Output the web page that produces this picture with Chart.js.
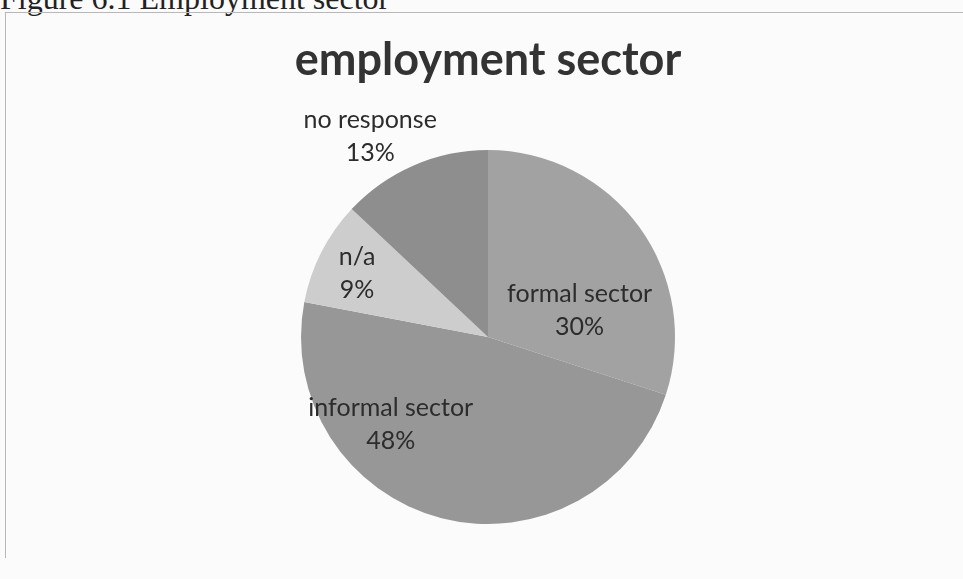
<!DOCTYPE html>
<html>
<head>
<meta charset="utf-8">
<script src="https://cdn.jsdelivr.net/npm/chart.js@4"></script>
<style>
  html, body { margin: 0; padding: 0; background: #fbfbfb; }
  #wrap { position: relative; width: 963px; height: 579px; overflow: hidden; }
  #caption {
    position: absolute; left: 0; top: -20px;
    font-family: "Liberation Serif", serif; font-size: 32px; color: #222;
    white-space: nowrap;
  }
  #frame {
    position: absolute; left: 5px; top: 12px; width: 970px; height: 545px;
    border-top: 1px solid #b8b8b8; border-left: 1px solid #b8b8b8;
  }
  canvas { position: absolute; left: 0; top: 0; }
</style>
</head>
<body>
<div id="wrap">
  <div id="caption">Figure 6.1 Employment sector</div>
  <div id="frame"></div>
  <canvas id="pie" width="963" height="579"></canvas>
</div>
<script>
// 차트 데이터
const categories = ['formal sector', 'informal sector', 'n/a', 'no response'];
const shares = [30, 48, 9, 13];
const sliceColors = ['#a2a2a2', '#979797', '#cdcdcd', '#8e8e8e'];

// 라벨 위치 (중심 기준, 반지름 비율)
const labelOffsets = [[0.49, -0.14], [-0.52, 0.47], [-0.70, -0.34], [-0.63, -1.07]];

const labelPlugin = {
    id: 'sliceLabels',
    afterDatasetsDraw(chart) {
        const ctx = chart.ctx;
        const meta = chart.getDatasetMeta(0);
        ctx.save();
        ctx.fillStyle = '#2c2c2c';
        ctx.font = '25px Lato';
        ctx.textAlign = 'center';
        ctx.textBaseline = 'middle';
        meta.data.forEach((arc, i) => {
            const r = arc.outerRadius;
            const x = arc.x + labelOffsets[i][0] * r;
            const y = arc.y + labelOffsets[i][1] * r;
            ctx.fillText(categories[i], x, y - 16.5);
            ctx.fillText(shares[i] + '%', x, y + 16.5);
        });
        ctx.restore();
    }
};

new Chart(document.getElementById('pie').getContext('2d'), {
    type: 'pie',
    data: {
        labels: categories,
        datasets: [{
            data: shares,
            backgroundColor: sliceColors,
            borderWidth: 0
        }]
    },
    options: {
        responsive: false,
        animation: false,
        layout: { padding: { left: 13, bottom: 55 } },
        plugins: {
            legend: { display: false },
            tooltip: { enabled: false },
            title: {
                display: true,
                text: 'employment sector',
                color: '#333',
                font: { family: 'Lato', size: 45, weight: 'bold', lineHeight: 1.2 },
                padding: { top: 33, bottom: 63 }
            }
        }
    },
    plugins: [labelPlugin]
});
</script>
</body>
</html>
